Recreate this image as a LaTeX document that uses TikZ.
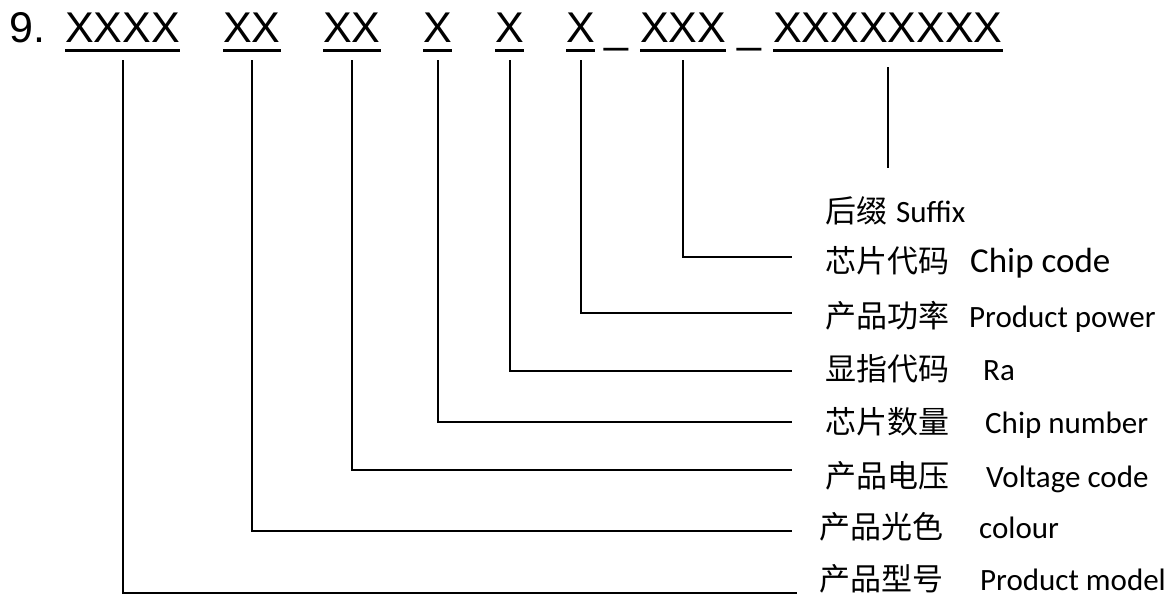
\documentclass[tikz,border=0pt]{standalone}
\usepackage{fontspec}
\setmainfont{Liberation Sans}
\newfontfamily\lab{Carlito}
\newfontfamily\cjk{Noto Sans CJK SC}
\begin{document}
\begin{tikzpicture}[x=1pt,y=-1pt,
  code/.style={inner sep=0pt,anchor=base west,font=\fontsize{43}{50}\selectfont},
  lbl/.style={inner sep=0pt,anchor=base west,font=\lab\fontsize{31}{37}\selectfont},
  uline/.style={line width=3pt},
  conn/.style={line width=2pt}]
\useasboundingbox (0,0) rectangle (1173,594);
% code line
\node[code] (n9) at (9,43) {9.};
\node[code] (g1) at (65,43) {XXXX};
\node[code] (g2) at (223,43) {XX};
\node[code] (g3) at (323,43) {XX};
\node[code] (g4) at (423,43) {X};
\node[code] (g5) at (495,43) {X};
\node[code] (g6) at (566,43) {X};
\node[code] (u1) at (604,43) {\_};
\node[code] (g7) at (640,43) {XXX};
\node[code] (u2) at (737,43) {\_};
\node[code] (g8) at (773,43) {XXXXXXXX};
\foreach \g in {g1,g2,g3,g4,g5,g6,g7,g8}
  \draw[uline] ([yshift=-7pt]\g.south west) -- ([yshift=-7pt]\g.south east);
% labels
\node[lbl] (l0) at (825,222) {\makebox[71pt][l]{\cjk 后缀}Suffix};
\node[lbl] (l1) at (825,272) {\makebox[145pt][l]{\cjk\fontsize{31}{37}\selectfont 芯片代码}\fontsize{35}{40}\selectfont Chip code};
\node[lbl] (l2) at (825,327) {\makebox[144pt][l]{\cjk 产品功率}Product power};
\node[lbl] (l3) at (825,380) {\makebox[158pt][l]{\cjk 显指代码}Ra};
\node[lbl] (l4) at (825,433) {\makebox[160pt][l]{\cjk 芯片数量}Chip number};
\node[lbl] (l5) at (825,487) {\makebox[161pt][l]{\cjk 产品电压}Voltage code};
\node[lbl] (l6) at (819,538) {\makebox[160pt][l]{\cjk 产品光色}colour};
\node[lbl] (l7) at (819,590) {\makebox[161pt][l]{\cjk 产品型号}Product model};
% connector ends
\coordinate (e0) at (868,168);
\coordinate (e1) at (792,257);
\coordinate (e2) at (792,313);
\coordinate (e3) at (792,371);
\coordinate (e4) at (792,422);
\coordinate (e5) at (792,470);
\coordinate (e6) at (792,531);
\coordinate (e7) at (797,593);
% connectors
\draw[conn] ([yshift=-24pt]g8.south) -- (g8.south |- e0);
\draw[conn] ([yshift=-17pt]g7.south) |- (e1);
\draw[conn] ([yshift=-17pt]g6.south) |- (e2);
\draw[conn] ([yshift=-17pt]g5.south) |- (e3);
\draw[conn] ([yshift=-17pt]g4.south) |- (e4);
\draw[conn] ([yshift=-17pt]g3.south) |- (e5);
\draw[conn] ([yshift=-17pt]g2.south) |- (e6);
\draw[conn] ([yshift=-17pt]g1.south) |- (e7);
\end{tikzpicture}
\end{document}
